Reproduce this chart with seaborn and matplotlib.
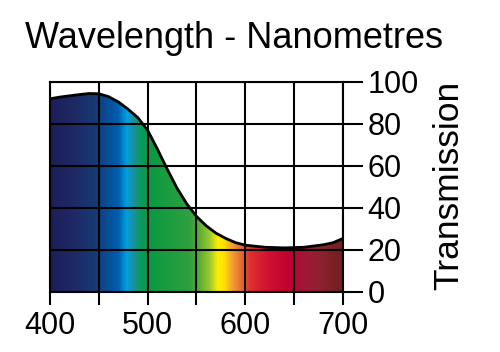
import numpy as np
import seaborn as sns
import matplotlib.pyplot as plt
from matplotlib.colors import LinearSegmentedColormap

# Transmission curve
wavelength = [400, 410, 420, 430, 440, 450, 460, 470, 480, 490, 500, 510, 520,
              530, 540, 550, 560, 570, 580, 590, 600, 620, 640, 660, 680, 690, 700]
transmission = [92, 92.8, 93.4, 94, 94.5, 94.4, 93, 90.5, 87, 83, 77, 68, 58.5,
                49.5, 42, 36, 31.5, 28, 25.5, 23.5, 22.3, 21.3, 21, 21.3, 22.5, 23.5, 25.5]

# Spectrum colours by wavelength
spec_nm = [400, 426, 446, 456, 470, 478, 485, 492, 502, 543, 554, 564, 572,
           579, 584, 595, 605, 625, 646, 661, 676, 700]
spec_col = ['#1e1e58', '#1f2a66', '#163a74', '#0a4a90', '#0060b0', '#00a0e0',
            '#1a90a0', '#0a9a60', '#0a9a40', '#30a040', '#60b030', '#a0c830',
            '#ffee00', '#ffe000', '#f8b030', '#e87030', '#e03030', '#d01030',
            '#c00030', '#a01838', '#902030', '#702020']

xticks = [400, 450, 500, 550, 600, 650, 700]
xlabels = ['400', '', '500', '', '600', '', '700']
yticks = [0, 20, 40, 60, 80, 100]

sns.set_style("white")
plt.rcParams['font.family'] = ['Liberation Sans', 'DejaVu Sans']
plt.rcParams['text.color'] = 'black'

fig = plt.figure(figsize=(5, 3.52), dpi=100)
ax = fig.add_axes([0.1, 0.1705, 0.586, 0.5966])

# gradient fill clipped under the curve
pos = [(n - 400) / 300 for n in spec_nm]
cmap = LinearSegmentedColormap.from_list('spec', list(zip(pos, spec_col)))
grad = np.linspace(0, 1, 600).reshape(1, -1)
poly = ax.fill_between(wavelength, 0, transmission, color='none', lw=0)
img = ax.imshow(grad, cmap=cmap, extent=[400, 700, 0, 100], aspect='auto',
                origin='lower', zorder=1)
clip = poly.get_paths()[0]
img.set_clip_path(clip, transform=ax.transData)

sns.lineplot(x=wavelength, y=transmission, color='black', lw=2, ax=ax, zorder=4)

ax.set_xlim(400, 700)
ax.set_ylim(0, 100)
ax.set_xticks(xticks)
ax.set_xticklabels(xlabels)
ax.set_yticks(yticks)
ax.yaxis.tick_right()
ax.grid(True, color='black', lw=1.5, zorder=3)
ax.set_axisbelow(False)
for s in ax.spines.values():
    s.set_color('black')
    s.set_linewidth(1.5)
    s.set_zorder(5)

ax.tick_params(axis='x', direction='out', length=9.5, width=1.5, pad=4,
               labelsize=22, colors='black', labelcolor='black', bottom=True)
ax.tick_params(axis='y', direction='out', length=14.5, width=1.5, pad=3,
               labelsize=22, colors='black', labelcolor='black', right=True, left=False)

fig.text(0.05, 0.94, 'Wavelength - Nanometres', fontsize=26, color='black',
         ha='left', va='top')
fig.text(0.898, 0.474, 'Transmission', fontsize=25.5, color='black', rotation=90,
         ha='center', va='center')

fig.savefig('out.png', dpi=100)
